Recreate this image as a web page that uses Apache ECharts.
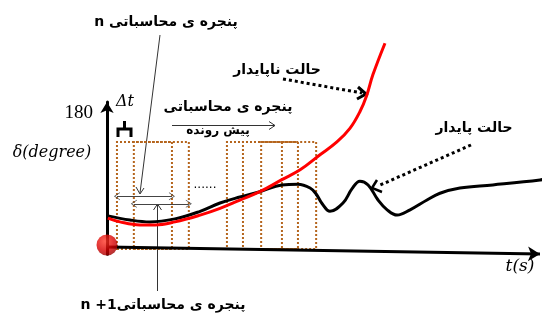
<!DOCTYPE html>
<html>
<head>
<meta charset="utf-8">
<script src="https://cdn.jsdelivr.net/npm/echarts@6/dist/echarts.min.js"></script>
<style>
  html, body { margin: 0; padding: 0; background: #fff; }
  #chart { width: 544px; height: 314px; }
</style>
</head>
<body>
<div id="chart"></div>
<script>
// زمان (ثانیه) و زاویه (درجه) برای حالت ناپایدار
const unstableT = [0.02, 0.3, 0.76, 1.11, 1.57, 2.15, 2.61, 3.07, 3.53, 4.04, 4.46, 4.92, 5.31, 5.61, 5.84, 6.0, 6.14, 6.42]
const unstableDelta = [41, 36, 32, 32, 36, 45, 54, 65, 76, 92, 105, 125, 142, 160, 182, 204, 231, 273]

// حالت پایدار
const stableT = [0.02, 0.53, 0.99, 1.57, 2.15, 2.61, 3.07, 3.53, 4.04, 4.41, 4.69, 4.83, 4.97, 5.15, 5.45, 5.66, 5.84, 6.03, 6.26, 6.47, 6.7, 7.0, 7.39, 7.69, 8.15, 8.91, 10.0, 10.09]
const stableDelta = [44, 38.5, 36, 40, 50, 61, 69, 76, 85, 86, 81, 73, 60, 50, 61, 80, 90, 85, 65, 52, 45, 52, 65, 74, 81, 85, 91.5, 93]

// پنجره های محاسباتی
const windowStart = [0.23, 0.62, 2.77, 3.14, 3.56]
const windowWidth = 1.27
const windowTop = 142
const arrowLevel = [70, 60] // پنجره n و n+1

const yTicks = [180]
const axisStart = [0, 2.6]
const axisEnd = [10, -6.6]

const chart = echarts.init(document.getElementById('chart'))

const pair = (xs, ys) => xs.map((x, i) => [x, ys[i]])

const chevron = 'path://M0,10L5,0L10,10L9,10L5,2L1,10Z'

const option = {
  animation: false,
  grid: { left: 107, right: 4, top: 102, bottom: 59.7 },
  xAxis: {
    type: 'value', min: 0, max: 10, show: false
  },
  yAxis: {
    type: 'value', min: -7, max: 195,
    axisLine: {
      show: true, symbol: ['none', 'arrow'], symbolSize: [10, 11],
      lineStyle: { color: '#000', width: 3 }
    },
    axisTick: { show: false },
    splitLine: { show: false },
    axisLabel: {
      customValues: yTicks, margin: 14,
      fontFamily: 'Liberation Serif', fontSize: 19, color: '#000'
    }
  },
  series: [
    {
      name: 'windows',
      type: 'line',
      data: [[0, 0]],
      showSymbol: false,
      lineStyle: { opacity: 0 },
      silent: true,
      z: 1,
      markArea: {
        silent: true,
        itemStyle: {
          color: 'rgba(0,0,0,0)', borderColor: '#b5651d',
          borderWidth: 2, borderType: [2, 2]
        },
        data: windowStart.map(s => [{ coord: [s, 0] }, { coord: [s + windowWidth, windowTop] }])
      },
      markLine: {
        silent: true,
        symbol: [chevron, chevron],
        symbolSize: [8, 6],
        label: { show: false },
        lineStyle: { color: '#444', width: 1, type: 'solid' },
        data: arrowLevel.map((lv, i) => [
          { coord: [windowStart[i], lv] },
          { coord: [windowStart[i] + windowWidth, lv] }
        ])
      }
    },
    {
      name: 'stable',
      type: 'line',
      data: pair(stableT, stableDelta),
      smooth: 0.4,
      showSymbol: false,
      clip: false,
      lineStyle: { color: '#000', width: 3 },
      z: 2,
      markLine: {
        silent: true,
        symbol: ['none', 'arrow'],
        symbolSize: [11, 12],
        label: { show: false },
        lineStyle: { color: '#000', width: 3, type: 'solid' },
        data: [[{ coord: axisStart }, { coord: axisEnd }]]
      }
    },
    {
      name: 'unstable',
      type: 'line',
      data: pair(unstableT, unstableDelta),
      smooth: 0.4,
      showSymbol: false,
      clip: false,
      lineStyle: { color: '#ff0000', width: 3 },
      z: 3
    },
    {
      name: 'origin',
      type: 'scatter',
      data: [[0, 0]],
      symbolSize: 21,
      symbolOffset: [0, -4],
      clip: false,
      z: 5,
      itemStyle: {
        color: {
          type: 'radial', x: 0.4, y: 0.32, r: 0.72,
          colorStops: [
            { offset: 0, color: '#ff3a2a' },
            { offset: 0.6, color: '#d80000' },
            { offset: 1, color: '#9a0000' }
          ]
        }
      }
    }
  ],
  graphic: [
    // متن ها
    { type: 'text', style: { text: 'n پنجره ی محاسباتی', x: 166, y: 22, textAlign: 'center', textVerticalAlign: 'middle', font: 'bold 14px "DejaVu Sans"', fill: '#000' } },
    { type: 'text', style: { text: 'حالت ناپایدار', x: 277, y: 70, textAlign: 'center', textVerticalAlign: 'middle', font: 'bold 14px "DejaVu Sans"', fill: '#000' } },
    { type: 'text', style: { text: 'پنجره ی محاسباتی', x: 228, y: 107, textAlign: 'center', textVerticalAlign: 'middle', font: 'bold 14px "DejaVu Sans"', fill: '#000' } },
    { type: 'text', style: { text: 'پیش رونده', x: 218, y: 131, textAlign: 'center', textVerticalAlign: 'middle', font: 'bold 12px "DejaVu Sans"', fill: '#000' } },
    { type: 'text', style: { text: 'حالت پایدار', x: 474, y: 128, textAlign: 'center', textVerticalAlign: 'middle', font: 'bold 14px "DejaVu Sans"', fill: '#000' } },
    { type: 'text', style: { text: 'n +1پنجره ی محاسباتی', x: 163, y: 305, textAlign: 'center', textVerticalAlign: 'middle', font: 'bold 14px "DejaVu Sans"', fill: '#000' } },
    { type: 'text', style: { text: 'Δt', x: 125, y: 102, textAlign: 'center', textVerticalAlign: 'middle', font: 'italic 16px "DejaVu Serif"', fill: '#000' } },
    { type: 'text', style: { text: 'δ(degree)', x: 52, y: 153, textAlign: 'center', textVerticalAlign: 'middle', font: 'italic 16px "DejaVu Serif"', fill: '#000' } },
    { type: 'text', style: { text: 't(s)', x: 520, y: 267, textAlign: 'center', textVerticalAlign: 'middle', font: 'italic 17px "DejaVu Serif"', fill: '#000' } },
    { type: 'text', style: { text: '......', x: 205, y: 185, textAlign: 'center', textVerticalAlign: 'middle', font: '12px "DejaVu Sans"', fill: '#000' } },

    // Δt
    { type: 'polyline', shape: { points: [[118, 137], [118, 129], [131, 129], [131, 137]] }, style: { stroke: '#000', lineWidth: 3, fill: null } },
    { type: 'line', shape: { x1: 124.5, y1: 121, x2: 124.5, y2: 129 }, style: { stroke: '#000', lineWidth: 3 } },

    // پیکان های نازک
    { type: 'line', shape: { x1: 160, y1: 35, x2: 140, y2: 193 }, style: { stroke: '#333', lineWidth: 1 } },
    { type: 'polyline', shape: { points: [[136, 187], [140, 194], [144, 188]] }, style: { stroke: '#333', lineWidth: 1, fill: null } },
    { type: 'line', shape: { x1: 157.5, y1: 291, x2: 157.5, y2: 204 }, style: { stroke: '#333', lineWidth: 1 } },
    { type: 'polyline', shape: { points: [[153.5, 210], [157.5, 204], [161.5, 210]] }, style: { stroke: '#333', lineWidth: 1, fill: null } },
    { type: 'line', shape: { x1: 172, y1: 125.5, x2: 275, y2: 125.5 }, style: { stroke: '#333', lineWidth: 1 } },
    { type: 'polyline', shape: { points: [[269, 121.5], [275, 125.5], [269, 129.5]] }, style: { stroke: '#333', lineWidth: 1, fill: null } },

    // پیکان های نقطه چین
    { type: 'line', shape: { x1: 283, y1: 79, x2: 362, y2: 93 }, style: { stroke: '#000', lineWidth: 3, lineDash: [3, 3] } },
    { type: 'polyline', shape: { points: [[358, 87], [366, 94], [357, 99]] }, style: { stroke: '#000', lineWidth: 3, fill: null } },
    { type: 'line', shape: { x1: 471, y1: 145, x2: 378, y2: 186 }, style: { stroke: '#000', lineWidth: 3, lineDash: [3, 3] } },
    { type: 'polyline', shape: { points: [[377, 180], [372, 188], [382, 192]] }, style: { stroke: '#000', lineWidth: 2.5, fill: null } }
  ]
}

chart.setOption(option)
</script>
</body>
</html>
